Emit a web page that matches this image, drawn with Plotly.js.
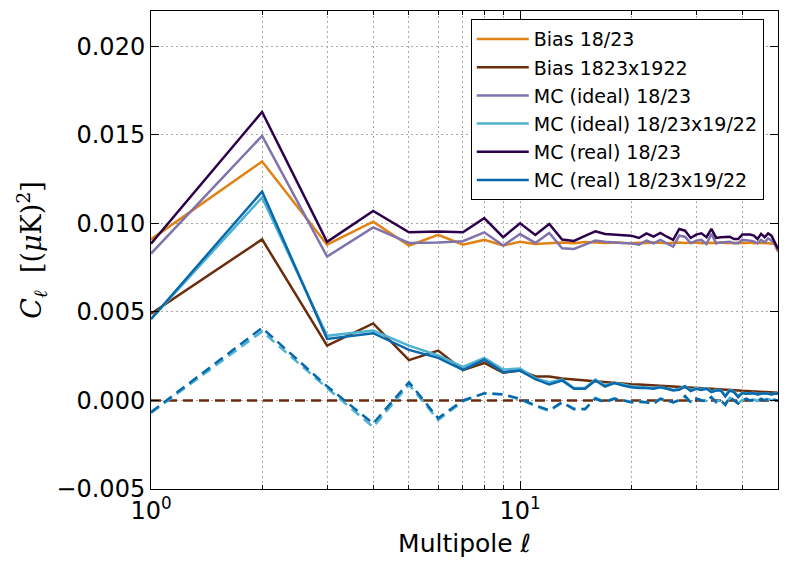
<!DOCTYPE html>
<html>
<head>
<meta charset="utf-8">
<script src="https://cdn.plot.ly/plotly-3.0.1.min.js"></script>
<style>html,body{margin:0;padding:0;background:#fff;}#chart{width:789px;height:572px;}</style>
</head>
<body>
<div id="chart"></div>
<script>
// multipoles
const ell = [1,2,3,4,5,6,7,8,9,10,11,12,13,14,15,16,17,18,19,20,21,22,23,24,25,26,27,28,29,30,31,32,33,34,35,36,37,38,39,40,41,42,43,44,45,46,47,48,49,50];

const biasAuto = [0.0091,0.0135,0.0088,0.0101,0.00875,0.00935,0.0088,0.00907,0.00875,0.00897,
  0.00884,0.0089,0.00893,0.00888,0.00895,0.00892,0.00889,0.00893,0.0089,0.00888,
  0.00891,0.00889,0.00892,0.0089,0.00888,0.00891,0.00893,0.00889,0.0089,0.00892,
  0.00888,0.0089,0.00891,0.00889,0.00892,0.0089,0.00888,0.0089,0.00891,0.00889,
  0.0089,0.00892,0.00888,0.0089,0.00891,0.00889,0.00888,0.00887,0.00884,0.0084];

const biasCross = [0.0049,0.0091,0.0031,0.00435,0.00228,0.00282,0.00172,0.00212,0.00157,0.0017,
  0.00136,0.00135,0.00124,0.00118,0.00112,0.00108,0.00103,0.001,0.00096,0.00092,
  0.0009,0.00088,0.00085,0.00083,0.00081,0.0008,0.00078,0.00076,0.00074,0.00072,
  0.0007,0.00068,0.00066,0.00065,0.00063,0.00061,0.0006,0.00058,0.00057,0.00055,
  0.00054,0.00053,0.00051,0.0005,0.00049,0.00048,0.00047,0.00046,0.00045,0.00044];

const mcIdealAuto = [0.0083,0.01495,0.00813,0.00978,0.0089,0.00893,0.009,0.0095,0.00875,0.0094,
  0.0089,0.00946,0.0086,0.00856,0.0088,0.00903,0.00897,0.00892,0.0089,0.00888,
  0.0088,0.00903,0.00888,0.00907,0.00888,0.00869,0.00931,0.00925,0.00888,0.00903,
  0.00907,0.00884,0.00941,0.00888,0.00893,0.00893,0.00897,0.00888,0.00888,0.00907,
  0.00907,0.00903,0.00899,0.00888,0.00907,0.00893,0.00916,0.00903,0.00884,0.00846];

const mcIdealCross = [0.0046,0.01147,0.00365,0.00395,0.0031,0.00254,0.0019,0.0024,0.00175,0.0018,
  0.00125,0.00103,0.00118,0.0007,0.0007,0.00118,0.00085,0.001,0.0009,0.0008,
  0.00076,0.00075,0.0007,0.00078,0.0007,0.0006,0.00066,0.00082,0.00058,0.0007,
  0.00064,0.0007,0.0005,0.0006,0.00058,0.00028,0.0006,0.0005,0.00025,0.00045,
  0.0004,0.0004,0.00044,0.00036,0.0004,0.00042,0.0004,0.00036,0.0004,0.00038];

const mcRealAuto = [0.00886,0.0163,0.00896,0.0107,0.0095,0.00954,0.0095,0.0103,0.00922,0.01001,
  0.00935,0.00997,0.00909,0.00901,0.0093,0.00955,0.0094,0.00937,0.00935,0.00931,
  0.00918,0.00944,0.00925,0.00946,0.00925,0.00907,0.00969,0.00959,0.00918,0.00937,
  0.00944,0.00922,0.00969,0.00918,0.00922,0.00922,0.00925,0.00912,0.00912,0.00937,
  0.00937,0.00937,0.00931,0.00912,0.00941,0.00922,0.00944,0.00931,0.00893,0.00856];

const mcRealCross = [0.0046,0.0118,0.00348,0.0038,0.00286,0.00241,0.00173,0.0023,0.0016,0.00169,
  0.0012,0.0009,0.00113,0.00066,0.00066,0.00113,0.00079,0.00098,0.00085,0.00075,
  0.00071,0.00071,0.00066,0.00075,0.00066,0.00056,0.0006,0.00079,0.00053,0.00066,
  0.0006,0.00066,0.00047,0.00056,0.00056,0.00023,0.00056,0.00047,0.00019,0.00041,
  0.00038,0.00038,0.00041,0.00034,0.00038,0.00041,0.00038,0.00034,0.00038,0.00038];

// dashed residual curves
const resBias = [0,0,0,0,0,0,0,0,0,0,0,0,0,0,0,0,0,0,0,0,0,0,0,0,0,0,0,0,0,0,0,0,0,0,0,0,0,0,0,0,0,0,0,0,0,0,0,0,0,0];

const resReal = [-0.00066,0.0041,0.0008,-0.0013,0.00103,-0.001,0.0,0.0004,0.00035,0.0001,
  -0.00028,-0.00055,-0.0001,-0.0005,-0.00048,0.0001,-0.0001,0.0001,0.0,-0.0001,
  -0.00008,-0.0001,-0.0002,0.0001,0.0,-0.0001,0.0,0.00025,-0.0001,0.00012,
  0.0,-0.00005,0.0002,-0.0001,0.0,-0.00025,0.0002,0.0,-0.00018,0.0,
  0.0001,0.0,0.00003,-0.00005,0.0001,0.0,0.0001,0.0,0.00004,-0.00004];

const resIdeal = [-0.0007,0.0039,0.0007,-0.0015,0.0009,-0.0011,-0.00005,0.00042,0.00033,0.00005,
  -0.0003,-0.0006,-0.00012,-0.00045,-0.0005,0.00015,-0.00005,0.00012,0.00003,-0.00008,
  -0.00005,-0.00012,-0.00015,0.00008,0.00003,-0.00012,0.00005,0.0002,-0.00008,0.0001,
  0.00003,-0.00002,0.00015,-0.00008,0.00003,-0.0002,0.00015,0.00002,-0.00015,0.00003,
  0.00008,0.00002,0.00005,-0.00003,0.00008,0.00002,0.00008,0.00002,0.00005,-0.00002];

const labels = ['Bias 18/23','Bias 1823x1922','MC (ideal) 18/23','MC (ideal) 18/23x19/22','MC (real) 18/23','MC (real) 18/23x19/22'];
const colors = ['#e08214','#6b2c0b','#8073ac','#4eb3d3','#2d004b','#0868ac'];
const series = [biasAuto, biasCross, mcIdealAuto, mcIdealCross, mcRealAuto, mcRealCross];

const traces = series.map((s,i)=>({
  x: ell, y: s, type:'scatter', mode:'lines', name: labels[i],
  legendgroup: 'g'+i,
  line:{color:colors[i], width:2.5}
}));

const dashed = [
  {y: resBias, c: colors[1]},
  {y: resIdeal, c: colors[3]},
  {y: resReal, c: colors[5]}
];
dashed.forEach((d,i)=>traces.push({
  x: ell, y: d.y, type:'scatter', mode:'lines', showlegend:false, hoverinfo:'skip',
  legendgroup:'d'+i,
  line:{color:d.c, width:2.5, dash:'10px,6px'}
}));

const font = 'DejaVu Sans, sans-serif';
const gridc = '#a8a8a8';
const gdash = '2px,3px';
const layout = {
  width:789, height:572,
  margin:{l:151, r:11, t:11, b:83},
  paper_bgcolor:'#fff', plot_bgcolor:'#fff',
  showlegend:true,
  font:{family:font, color:'#000'},
  xaxis:{
    type:'log', range:[0, Math.log10(50)],
    tickvals:[1,10], ticktext:['10<sup>0</sup>','10<sup>1</sup>'],
    ticks:'inside', ticklen:8, tickwidth:1, tickcolor:'#000',
    showline:true, linecolor:'#000', linewidth:1, mirror:'allticks',
    showgrid:true, gridcolor:gridc, griddash:gdash, gridwidth:1,
    minor:{tickvals:[2,3,4,5,6,7,8,9,20,30,40], ticks:'inside', ticklen:4, tickcolor:'#000',
           showgrid:true, gridcolor:gridc, griddash:gdash, gridwidth:1},
    zeroline:false,
    tickfont:{family:font, size:24, color:'#000'},
    title:{text:'Multipole ℓ', font:{family:font, size:25, color:'#000'}, standoff:10}
  },
  yaxis:{
    range:[-0.005, 0.022],
    tickvals:[-0.005,0,0.005,0.01,0.015,0.02], tickformat:'.3f',
    ticks:'inside', ticklen:8, tickwidth:1, tickcolor:'#000',
    showline:true, linecolor:'#000', linewidth:1, mirror:'allticks',
    showgrid:true, gridcolor:gridc, griddash:gdash, gridwidth:1,
    zeroline:false,
    tickfont:{family:font, size:24, color:'#000'},
    title:{text:'<i>C</i><sub><i>ℓ</i></sub>  [(<i>μ</i>K)<sup>2</sup>]', font:{family:'DejaVu Serif, serif', size:27, color:'#000'}, standoff:6}
  },
  legend:{
    x:0.51, y:0.983, xanchor:'left', yanchor:'top',
    bgcolor:'#fff', bordercolor:'#000', borderwidth:1,
    font:{family:font, size:19, color:'#000'},
    traceorder:'grouped', tracegroupgap:0.5, itemwidth:52
  }
};

Plotly.newPlot('chart', traces, layout, {displayModeBar:false, staticPlot:true});
</script>
</body>
</html>
